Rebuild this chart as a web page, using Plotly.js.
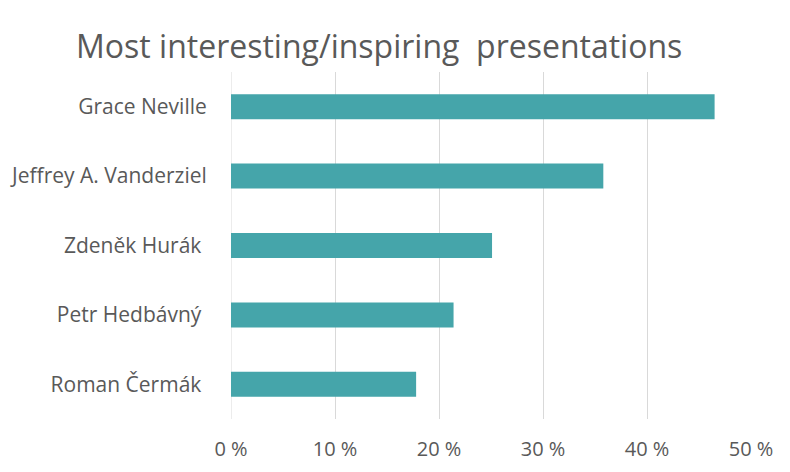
<!DOCTYPE html>
<html>
<head>
<meta charset="utf-8">
<script src="https://cdn.plot.ly/plotly-3.0.1.min.js"></script>
<style>
  html, body { margin: 0; padding: 0; background: #fff; }
  #chart { width: 790px; height: 472px; }
</style>
</head>
<body>
<div id="chart"></div>
<script>
// speakers, bottom to top as drawn
let speakers = ["Roman Čermák\u00a0", "Petr Hedbávný\u00a0", "Zdeněk Hurák\u00a0", "Jeffrey A. Vanderziel", "Grace Neville"];
let shares = [17.8, 21.4, 25.1, 35.8, 46.5];
let tickValues = [0, 10, 20, 30, 40, 50];
let tickLabels = tickValues.map(v => v + " %");

let font = "Open Sans, Noto Sans, sans-serif";

let trace = {
    type: "bar",
    orientation: "h",
    x: shares,
    y: speakers,
    marker: { color: "#45A5AA" },
    hoverinfo: "none",
};

let layout = {
    width: 790,
    height: 472,
    margin: { l: 231, r: 39, t: 72, b: 53 },
    paper_bgcolor: "#fff",
    plot_bgcolor: "#fff",
    bargap: 0.64,
    showlegend: false,
    font: { family: font, color: "#595959" },
    title: {
        text: "Most interesting/inspiring  presentations",
        font: { family: font, size: 32, color: "#595959" },
        x: 0.48,
        xanchor: "center",
        y: 0.9,
        yanchor: "middle",
        yref: "container",
    },
    xaxis: {
        range: [0, 50],
        tickvals: tickValues,
        ticktext: tickLabels,
        showgrid: true,
        gridcolor: "#D9D9D9",
        gridwidth: 1,
        zeroline: false,
        showline: false,
        ticks: "outside",
        ticklen: 12,
        tickcolor: "rgba(0,0,0,0)",
        tickfont: { size: 20, color: "#595959" },
        fixedrange: true,
    },
    yaxis: {
        type: "category",
        showgrid: false,
        zeroline: false,
        showline: false,
        ticks: "outside",
        ticklen: 19,
        tickcolor: "rgba(0,0,0,0)",
        tickfont: { size: 21, color: "#595959" },
        fixedrange: true,
    },
    shapes: [{
        type: "line", xref: "x", yref: "paper",
        x0: 0, x1: 0, y0: 0, y1: 1,
        line: { color: "#D9D9D9", width: 1 },
        layer: "below",
    }],
};

Plotly.newPlot("chart", [trace], layout, { displayModeBar: false, staticPlot: true });
</script>
</body>
</html>
